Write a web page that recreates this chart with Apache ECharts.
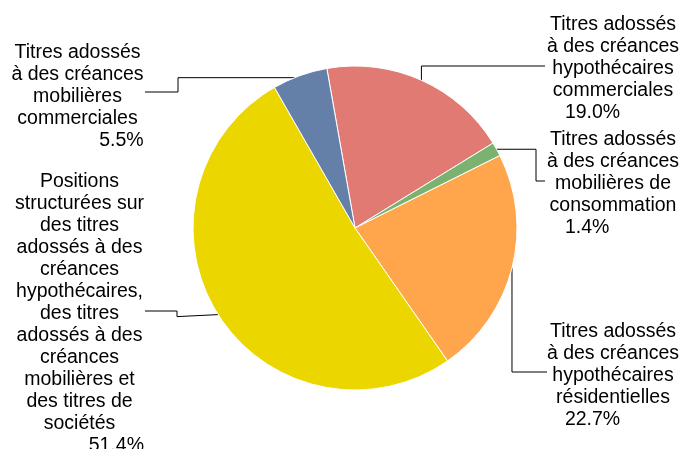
<!DOCTYPE html>
<html>
<head>
<meta charset="utf-8">
<script src="https://cdn.jsdelivr.net/npm/echarts@6/dist/echarts.min.js"></script>
<style>
html,body{margin:0;padding:0;background:#fff;}
#chart{width:682px;height:449px;}
</style>
</head>
<body>
<div id="chart"></div>
<script>
// Data (clockwise order from the top)
const categories = [
  "Titres adossés\nà des créances\nhypothécaires\ncommerciales",
  "Titres adossés\nà des créances\nmobilières de\nconsommation",
  "Titres adossés\nà des créances\nhypothécaires\nrésidentielles",
  "Positions\nstructurées sur\ndes titres\nadossés à des\ncréances\nhypothécaires,\ndes titres\nadossés à des\ncréances\nmobilières et\ndes titres de\nsociétés",
  "Titres adossés\nà des créances\nmobilières\ncommerciales"
];
const values = [19.0, 1.4, 22.7, 51.4, 5.5];

// Styling / layout (not data)
const colors = ["#E07A73", "#7BB270", "#FFA54B", "#ECD600", "#647FA8"];
const labelSide = ["right", "right", "right", "left", "left"];
const labelPos = [[613, 13.5], [613, 128.5], [613, 320.5], [79.5, 170.5], [77.5, 41.5]];

function leader(i, p) {
  const x = p[0], y = p[1];
  switch (i) {
    case 0: return [[x, y], [x, 66], [545, 66]];
    case 1: return [[x, y], [536, y], [536, 181], [545, 181]];
    case 2: return [[x, y], [x, 372], [547, 372]];
    case 3: return [[x, y], [177, y + 2], [177, 311], [145, 311]];
    case 4: return [[x, y + 2], [178, y + 2], [178, 92], [145, 92]];
  }
}

const chart = echarts.init(document.getElementById('chart'), null, {renderer: 'canvas'});
const cx = 355, cy = 228, R = 162, startAngle = 100;
const FONT = 'Liberation Sans, Arial, sans-serif';

chart.setOption({
  animation: false,
  series: [{
    type: 'pie',
    center: [cx, cy],
    radius: [0, R],
    startAngle: startAngle,
    clockwise: true,
    avoidLabelOverlap: false,
    itemStyle: {borderColor: '#fff', borderWidth: 1},
    data: categories.map((c, i) => ({
      name: c,
      value: values[i],
      itemStyle: {color: colors[i]}
    })),
    label: {
      show: true,
      position: 'outside',
      fontFamily: FONT,
      fontSize: 19.5,
      color: '#000',
      formatter: function (p) {
        const pct = values[p.dataIndex].toFixed(1) + '%';
        const tag = labelSide[p.dataIndex] === 'left' ? 'pr' : 'pl';
        return '{n|' + p.name + '}\n{' + tag + '|' + pct + '}';
      },
      rich: {
        n: {align: 'center', fontSize: 19.5, lineHeight: 22, color: '#000', fontFamily: FONT},
        pr: {align: 'right', fontSize: 19.5, lineHeight: 22, color: '#000', fontFamily: FONT},
        pl: {align: 'left', fontSize: 19.5, lineHeight: 22, color: '#000', padding: [0, 0, 0, 18], fontFamily: FONT}
      }
    },
    labelLine: {
      show: true,
      length: 10,
      length2: 10,
      lineStyle: {color: '#000', width: 1}
    },
    labelLayout: function (params) {
      const i = params.dataIndex;
      let p0;
      if (params.labelLinePoints && params.labelLinePoints[0]) {
        p0 = params.labelLinePoints[0];
      } else {
        p0 = [cx, cy];
      }
      return {
        x: labelPos[i][0],
        y: labelPos[i][1],
        align: 'center',
        verticalAlign: 'top',
        labelLinePoints: leader(i, p0)
      };
    }
  }]
});
</script>
</body>
</html>
